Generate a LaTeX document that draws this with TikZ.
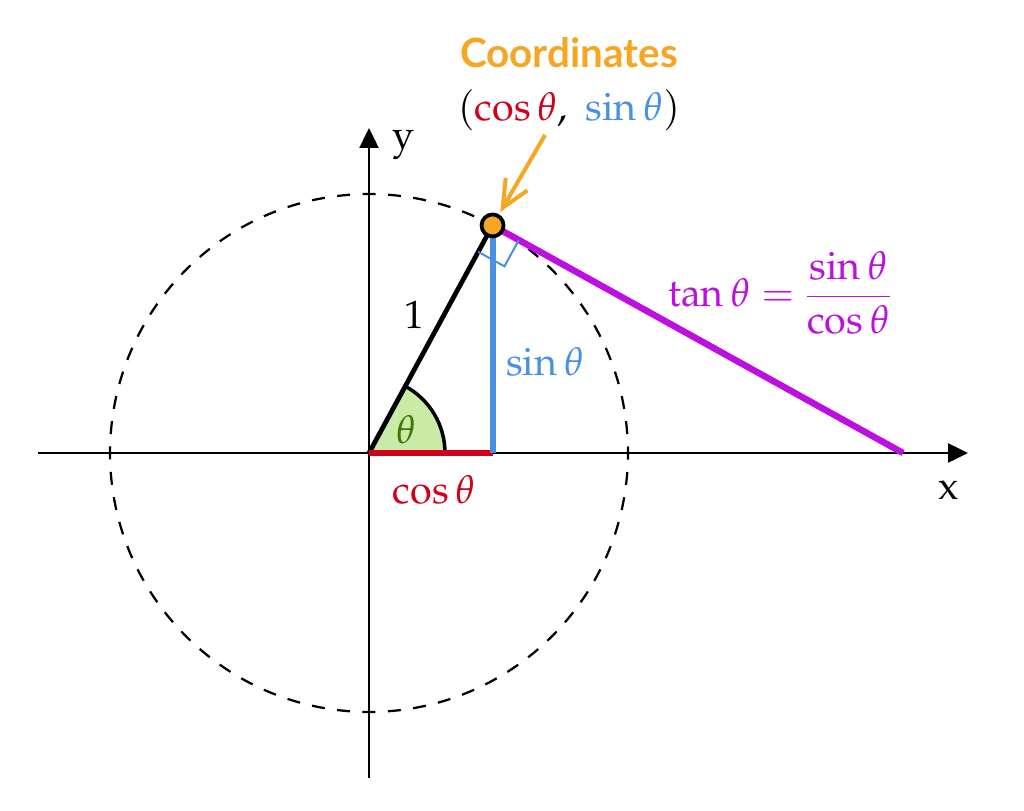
\documentclass[tikz,border=0pt]{standalone}
\usepackage{amsmath}
\usepackage{fontspec}
\newfontfamily\latofont{Lato}
\usepackage{mathpazo}
\usetikzlibrary{arrows.meta,calc}
\definecolor{cOrange}{HTML}{F5A623}
\definecolor{cRed}{HTML}{D0021B}
\definecolor{cBlue}{HTML}{4A90E2}
\definecolor{cPurple}{HTML}{BD10E0}
\definecolor{cGreenFill}{HTML}{C9EBA5}
\definecolor{cGreenText}{HTML}{417505}
\begin{document}
\begin{tikzpicture}[x=0.02cm,y=-0.02cm,
  axis/.style={line width=0.05cm,-{Triangle[length=0.4cm,width=0.38cm]}},
  unitcircle/.style={line width=0.045cm,dash pattern=on 0.26cm off 0.2486cm,dash phase=0.13cm},
  lbl/.style={inner sep=0pt,font=\fontsize{22.5}{27}\selectfont},
  radiusline/.style={line width=0.095cm},
  cosline/.style={cRed,line width=0.12cm},
  sinline/.style={cBlue,line width=0.12cm},
  tanline/.style={cPurple,line width=0.13cm},
  rightmark/.style={cBlue,line width=0.04cm},
  pointdot/.style={circle,draw=black,fill=cOrange,line width=0.075cm,minimum size=0.44cm,inner sep=0pt},
  pointer/.style={cOrange,line width=0.08cm,-{Straight Barb[length=0.55cm,width=0.5cm]}}]
\useasboundingbox (0,0) rectangle (1024,811);
% key points
\coordinate (O) at (369,453);
\coordinate (xL) at (38,453);
\coordinate (xR) at (968,453);
\coordinate (yB) at (369,778);
\coordinate (yT) at (369,128);
\coordinate (P) at ($(O)+(61.5:5.18cm)$);
\coordinate (F) at (P |- O);
\coordinate (T) at (903,453);
\coordinate (A0) at (545,135);
\coordinate (A1) at ($(P)!0.31cm!(A0)$);
\coordinate (M1) at ($(P)!0.6cm!(O)$);
\coordinate (M2) at ($(P)!0.6cm!(T)$);
\coordinate (M3) at ($(M1)+(M2)-(P)$);
% axes
\draw[axis] (xL) -- (xR);
\draw[axis] (yB) -- (yT);
% unit circle
\draw[unitcircle] (O) circle[radius=5.18cm];
% angle sector
\fill[cGreenFill] (O) -- ($(O)+(0:1.52cm)$) arc[start angle=0,end angle=61.5,radius=1.52cm] -- cycle;
\draw[line width=0.07cm] ($(O)+(0:1.52cm)$) arc[start angle=0,end angle=61.5,radius=1.52cm];
% segments
\draw[radiusline] (O) -- (P);
\draw[cosline] (O) -- (F);
\draw[sinline] (F) -- (P);
\draw[tanline] (P) -- (T);
\draw[rightmark] (M1) -- (M3) -- (M2);
% point
\node[pointdot] (Pdot) at (P) {};
\draw[pointer] (A0) -- (A1);
% labels
\node[lbl] (ylab) at (403,145) {$\mathrm{y}$};
\node[lbl] (xlab) at (949,490) {$\mathrm{x}$};
\node[lbl] (one) at (414,315) {$1$};
\node[lbl,text=cGreenText] (thlab) at (406,430) {$\theta$};
\node[lbl,text=cRed] (coslab) at (434,490) {$\cos\theta$};
\node[lbl,text=cBlue] (sinlab) at (545,362) {$\sin\theta$};
\node[lbl,text=cPurple] (tanlab) at (780,293) {$\tan\theta = \dfrac{\sin\theta}{\cos\theta}$};
\node[inner sep=0pt,text=cOrange,font=\latofont\bfseries\fontsize{23}{27}\selectfont] (coordtitle) at (569,53) {Coordinates};
\node[lbl] (coords) at (569,110) {$(\textcolor{cRed}{\cos\theta},\ \textcolor{cBlue}{\sin\theta})$};
\end{tikzpicture}
\end{document}
